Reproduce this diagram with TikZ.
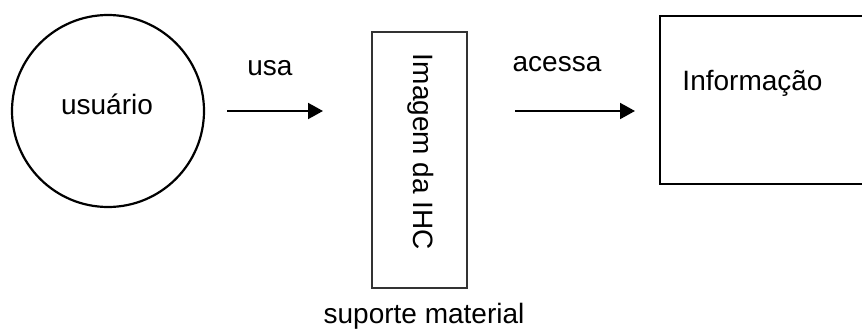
\documentclass[tikz,border=0pt]{standalone}
\usepackage{fontspec}
\setmainfont{Liberation Sans}
\usetikzlibrary{arrows.meta}
\begin{document}
\begin{tikzpicture}[x=1pt,y=-1pt,
  lbl/.style={font=\fontsize{28}{34}\selectfont, inner sep=0pt, anchor=base},
  flow/.style={line width=2pt, -{Triangle[length=15pt,width=16pt]}}]
\useasboundingbox (0,0) rectangle (862,329);
% user
\node[circle, draw, line width=2.2pt, minimum size=192pt, inner sep=0pt] (user) at (108,111) {};
\node[lbl] (userlbl) at (107,114) {usuário};
% interface image (material support)
\node[draw=black!80, line width=1.5pt, minimum width=95pt, minimum height=256pt, inner sep=0pt] (ihc) at (419.5,160) {};
\node[lbl, rotate=-90] (ihclbl) at (413,152) {Imagem da IHC};
\node[lbl] (suporte) at (424,323) {suporte material};
% information
\begin{scope}
\clip (0,0) rectangle (862,329);
\node[draw, line width=2pt, anchor=north west, minimum width=220pt, minimum height=168pt, inner sep=0pt] (info) at (659,15) {};
\end{scope}
\node[lbl] (infolbl) at (752.5,91) {Informação};
% arrows
\coordinate (a1s) at (227,111);
\coordinate (a1e) at (323,111);
\coordinate (a2s) at (515,111);
\coordinate (a2e) at (635,111);
\draw[flow] (a1s) -- (a1e);
\draw[flow] (a2s) -- (a2e);
\node[lbl] (usa) at (270,75) {usa};
\node[lbl] (acessa) at (557,72) {acessa};
\end{tikzpicture}
\end{document}
